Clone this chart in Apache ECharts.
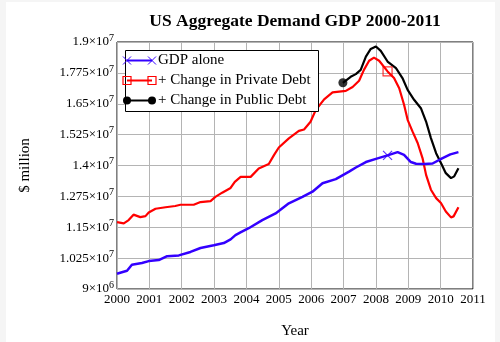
<!DOCTYPE html>
<html><head><meta charset="utf-8">
<script src="https://cdn.jsdelivr.net/npm/echarts@6/dist/echarts.min.js"></script>
<style>html,body{margin:0;padding:0;background:#fff}#c{width:500px;height:342px}</style>
</head><body><div id="c"></div>
<script>
const titleText = 'US Aggregate Demand GDP 2000-2011';
const xAxisName = 'Year';
const yAxisName = '$ million';
const seriesNames = ['GDP alone', '+ Change in Private Debt', '+ Change in Public Debt'];
const seriesColors = ['#3300ff', '#ff0000', '#000000'];

const gdpYears = [2000.0, 2000.15, 2000.31, 2000.46, 2000.77, 2000.98, 2001.29, 2001.55, 2001.91, 2002.27, 2002.58, 2002.99, 2003.3, 2003.51, 2003.66, 2003.8, 2004.07, 2004.49, 2004.9, 2005.31, 2005.73, 2006.04, 2006.35, 2006.76, 2007.17, 2007.38, 2007.69, 2008.0, 2008.36, 2008.67, 2008.87, 2009.08, 2009.24, 2009.5, 2009.75, 2010.06, 2010.3, 2010.55];
const gdpValues = [9.62e6, 9.68e6, 9.74e6, 9.98e6, 10.05e6, 10.13e6, 10.17e6, 10.33e6, 10.36e6, 10.5e6, 10.66e6, 10.77e6, 10.86e6, 11.01e6, 11.18e6, 11.28e6, 11.46e6, 11.79e6, 12.06e6, 12.47e6, 12.73e6, 12.94e6, 13.28e6, 13.45e6, 13.75e6, 13.92e6, 14.14e6, 14.27e6, 14.41e6, 14.54e6, 14.43e6, 14.14e6, 14.07e6, 14.06e6, 14.08e6, 14.3e6, 14.45e6, 14.54e6];

const privateYears = [2000.0, 2000.21, 2000.36, 2000.51, 2000.72, 2000.88, 2000.98, 2001.19, 2001.5, 2001.8, 2001.96, 2002.37, 2002.58, 2002.89, 2003.04, 2003.25, 2003.51, 2003.64, 2003.82, 2004.13, 2004.38, 2004.69, 2004.85, 2005.0, 2005.31, 2005.62, 2005.78, 2005.98, 2006.14, 2006.4, 2006.66, 2007.07, 2007.28, 2007.48, 2007.63, 2007.79, 2007.94, 2008.1, 2008.36, 2008.56, 2008.72, 2008.87, 2008.98, 2009.13, 2009.29, 2009.44, 2009.55, 2009.7, 2009.86, 2010.01, 2010.16, 2010.32, 2010.4, 2010.55];
const privateValues = [11.71e6, 11.66e6, 11.79e6, 12.01e6, 11.91e6, 11.95e6, 12.1e6, 12.25e6, 12.31e6, 12.36e6, 12.41e6, 12.41e6, 12.52e6, 12.56e6, 12.73e6, 12.9e6, 13.09e6, 13.34e6, 13.54e6, 13.54e6, 13.88e6, 14.06e6, 14.42e6, 14.73e6, 15.1e6, 15.4e6, 15.46e6, 15.77e6, 16.24e6, 16.68e6, 16.96e6, 17.02e6, 17.18e6, 17.43e6, 17.87e6, 18.24e6, 18.37e6, 18.24e6, 17.81e6, 17.54e6, 17.13e6, 16.46e6, 15.85e6, 15.38e6, 14.91e6, 14.3e6, 13.62e6, 13.02e6, 12.68e6, 12.48e6, 12.14e6, 11.9e6, 11.94e6, 12.31e6];

const publicYears = [2006.98, 2007.22, 2007.38, 2007.53, 2007.69, 2007.84, 2008.0, 2008.15, 2008.36, 2008.62, 2008.82, 2008.98, 2009.18, 2009.39, 2009.55, 2009.7, 2009.86, 2010.01, 2010.16, 2010.32, 2010.42, 2010.55];
const publicValues = [17.35e6, 17.59e6, 17.7e6, 17.87e6, 18.41e6, 18.72e6, 18.82e6, 18.64e6, 18.21e6, 17.94e6, 17.54e6, 17.06e6, 16.66e6, 16.32e6, 15.78e6, 15.11e6, 14.5e6, 14.1e6, 13.69e6, 13.49e6, 13.56e6, 13.89e6];

// index of the point carrying each series' marker
const markerIndex = [28, 38, 0];

const xTicks = [2000, 2011, 1];          // min, max, interval
const yTicks = [9e6, 1.9e7, 1.25e6];     // min, max, interval

const FONT = '"Liberation Serif", "Times New Roman", serif';

function pairs(xs, ys) { return xs.map((x, i) => [x, ys[i]]); }
const allYears = [gdpYears, privateYears, publicYears];
const allValues = [gdpValues, privateValues, publicValues];

function sciLabel(v) {
  const e = Math.floor(Math.log10(v) + 1e-9);
  let m = +(v / Math.pow(10, e)).toFixed(4);
  return '{m|' + m + '×10}{e|' + e + '}';
}

const crossPath = 'path://M0,0L10,10M10,0L0,10';
const markerSymbols = [crossPath, 'rect', 'circle'];
const markerSizes = [9, 9, 9];

const series = [];
for (let i = 0; i < 3; i++) {
  series.push({
    name: seriesNames[i], type: 'line', data: pairs(allYears[i], allValues[i]),
    symbol: 'none', showSymbol: false, smooth: false, animation: false,
    lineStyle: { color: seriesColors[i], width: i === 0 ? 2.5 : 2.2 }, z: 3 - i + 2
  });
}
for (let i = 0; i < 3; i++) {
  const k = markerIndex[i];
  const filled = i === 2;
  series.push({
    type: 'scatter', data: [[allYears[i][k], allValues[i][k]]], animation: false,
    symbol: markerSymbols[i], symbolSize: markerSizes[i], z: 10,
    itemStyle: filled ? { color: seriesColors[i] } :
      { color: 'rgba(0,0,0,0)', borderColor: seriesColors[i], borderWidth: 1.2 }
  });
}

// light page frame seen around the reference image
const frameGraphic = [
  { type: 'rect', shape: { x: 0, y: 0, width: 6, height: 342 }, style: { fill: '#f5f5f5' }, z: 0, silent: true },
  { type: 'rect', shape: { x: 0, y: 0, width: 500, height: 2 }, style: { fill: '#f5f5f5' }, z: 0, silent: true },
  { type: 'rect', shape: { x: 495, y: 0, width: 5, height: 342 }, style: { fill: '#f5f5f5' }, z: 0, silent: true }
];

// legend drawn as graphic
const legendGraphic = [{
  type: 'rect', shape: { x: 125.5, y: 50.5, width: 193, height: 61 },
  style: { fill: '#fff', stroke: '#000', lineWidth: 1 }, z: 100
}];
for (let i = 0; i < 3; i++) {
  const y = 60.5 + 20 * i, x1 = 127, x2 = 152, c = seriesColors[i];
  legendGraphic.push({ type: 'line', shape: { x1: x1, y1: y, x2: x2, y2: y }, style: { stroke: c, lineWidth: 2 }, z: 101 });
  [x1, x2].forEach(x => {
    if (i === 0) {
      legendGraphic.push({ type: 'line', shape: { x1: x - 4, y1: y - 4, x2: x + 4, y2: y + 4 }, style: { stroke: c, lineWidth: 1 }, z: 102 });
      legendGraphic.push({ type: 'line', shape: { x1: x - 4, y1: y + 4, x2: x + 4, y2: y - 4 }, style: { stroke: c, lineWidth: 1 }, z: 102 });
    } else if (i === 1) {
      legendGraphic.push({ type: 'rect', shape: { x: x - 4, y: y - 4, width: 8, height: 8 }, style: { fill: 'rgba(0,0,0,0)', stroke: c, lineWidth: 1.2 }, z: 102 });
    } else {
      legendGraphic.push({ type: 'circle', shape: { cx: x, cy: y, r: 4 }, style: { fill: c }, z: 102 });
    }
  });
  legendGraphic.push({ type: 'text', x: 158, y: y, style: { text: seriesNames[i], fontSize: 15, fontFamily: FONT, fill: '#000', verticalAlign: 'middle' }, z: 102 });
}

const chart = echarts.init(document.getElementById('c'), null, { renderer: 'canvas' });
chart.setOption({
  backgroundColor: '#fff',
  animation: false,
  title: {
    text: titleText, left: 290, top: 7, textAlign: 'center',
    textStyle: { fontFamily: FONT, fontSize: 17.5, fontWeight: 'bold', color: '#000' }
  },
  grid: { left: 117, right: 27, top: 42, bottom: 53, show: true, borderColor: '#000', borderWidth: 1, outerBoundsMode: 'none', containLabel: false },
  xAxis: {
    type: 'value', min: xTicks[0], max: xTicks[1], interval: xTicks[2],
    name: xAxisName, nameLocation: 'middle', nameGap: 35,
    nameTextStyle: { fontFamily: FONT, fontSize: 15, color: '#000' },
    axisLine: { show: false }, axisTick: { show: false },
    axisLabel: { margin: 4, fontFamily: FONT, fontSize: 13, color: '#000', formatter: v => String(v) },
    splitLine: { show: true, lineStyle: { color: '#b4b4b4', width: 1 } }
  },
  yAxis: {
    type: 'value', min: yTicks[0], max: yTicks[1], interval: yTicks[2],
    name: yAxisName, nameLocation: 'middle', nameGap: 84, nameRotate: 90,
    nameTextStyle: { fontFamily: FONT, fontSize: 15, color: '#000' },
    axisLine: { show: false }, axisTick: { show: false },
    axisLabel: {
      margin: 3, color: '#000', formatter: sciLabel,
      rich: {
        m: { fontFamily: FONT, fontSize: 13, color: '#000' },
        e: { fontFamily: FONT, fontSize: 10, color: '#000', verticalAlign: 'top', padding: [0, 0, 8, 0] }
      }
    },
    splitLine: { show: true, lineStyle: { color: '#b4b4b4', width: 1 } }
  },
  series: series,
  graphic: frameGraphic.concat(legendGraphic)
});
</script></body></html>
